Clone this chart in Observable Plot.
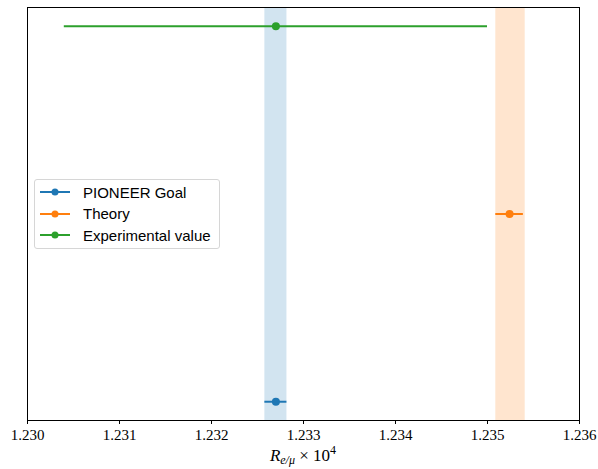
<!DOCTYPE html>
<html>
<head>
<meta charset="utf-8">
<script src="https://cdn.jsdelivr.net/npm/d3@7"></script>
<script src="https://cdn.jsdelivr.net/npm/@observablehq/plot@0.6"></script>
<style>
  body { margin: 0; background: #fff; }
  #wrap { position: relative; width: 598px; height: 469px; }
  #legend {
    position: absolute; left: 34px; top: 179px; width: 186px; height: 70px;
    box-sizing: border-box; border: 1px solid #d6d6d6; border-radius: 3px;
    background: rgba(255,255,255,0.8);
    font-family: "Liberation Sans", Arial, sans-serif; font-size: 15px; color: #000;
  }
  .row { position: absolute; left: 0; height: 20px; display: flex; align-items: center; }
  .row svg { margin-left: 5px; margin-right: 13px; }
</style>
</head>
<body>
<div id="wrap"></div>
<script>
// Electron-to-muon branching ratio R_{e/mu} (×10^4)
const labels = ["PIONEER Goal", "Theory", "Experimental value"];
const rows = [0, 1, 2];
const centers = [1.2327, 1.23524, 1.2327];
const errors = [0.00012, 0.00015, 0.0023];
const colors = ["#1f77b4", "#ff7f0e", "#2ca02c"];

// shaded bands for PIONEER goal and theory
const bandCenters = [1.2327, 1.23525];
const bandHalfWidths = [0.00012, 0.00016];
const bandColors = ["#1f77b4", "#ff7f0e"];

const xTicks = [1.230, 1.231, 1.232, 1.233, 1.234, 1.235, 1.236];

const points = labels.map((label, i) => ({
  label, y: rows[i], x: centers[i], lo: centers[i] - errors[i], hi: centers[i] + errors[i], color: colors[i]
}));
const bands = bandCenters.map((c, i) => ({ x1: c - bandHalfWidths[i], x2: c + bandHalfWidths[i], color: bandColors[i] }));

const plot = Plot.plot({
  width: 598,
  height: 469,
  marginLeft: 27,
  marginRight: 19,
  marginTop: 7,
  marginBottom: 49,
  style: { fontFamily: "'Liberation Serif', serif", fontSize: "15px", color: "#000", background: "#fff" },
  x: { domain: [1.230, 1.236], ticks: xTicks, tickFormat: d3.format(".3f"), tickSize: 4, tickPadding: 5, label: null },
  y: { domain: [-0.1, 2.1], axis: null },
  marks: [
    Plot.rectX(bands, { x1: "x1", x2: "x2", fill: "color", fillOpacity: 0.2 }),
    Plot.ruleY(points, { y: "y", x1: "lo", x2: "hi", stroke: "color", strokeWidth: 2 }),
    Plot.dot(points, { x: "x", y: "y", fill: "color", r: 4 }),
    Plot.frame({ stroke: "#000", strokeWidth: 1 })
  ]
});

document.getElementById("wrap").appendChild(plot);

// axis title R_{e/μ} × 10^4
const svg = d3.select(plot);
const t = svg.append("text")
  .attr("x", 303).attr("y", 461)
  .attr("text-anchor", "middle")
  .attr("font-family", "'Liberation Serif', serif")
  .attr("font-size", 17)
  .attr("fill", "#000");
t.append("tspan").attr("font-style", "italic").text("R");
t.append("tspan").attr("font-style", "italic").attr("font-size", 12).attr("dy", 3).text("e/μ");
t.append("tspan").attr("dy", -3).text(" × 10");
t.append("tspan").attr("font-size", 12).attr("dy", -7).text("4");

// legend
const legend = document.createElement("div");
legend.id = "legend";
labels.forEach((label, i) => {
  const row = document.createElement("div");
  row.className = "row";
  row.style.top = (2 + i * 21.5) + "px";
  row.innerHTML = `<svg width="30" height="10"><line x1="0" x2="30" y1="5" y2="5" stroke="${colors[i]}" stroke-width="2"/><circle cx="15" cy="5" r="3.5" fill="${colors[i]}"/></svg><span>${label}</span>`;
  legend.appendChild(row);
});
document.getElementById("wrap").appendChild(legend);
</script>
</body>
</html>
